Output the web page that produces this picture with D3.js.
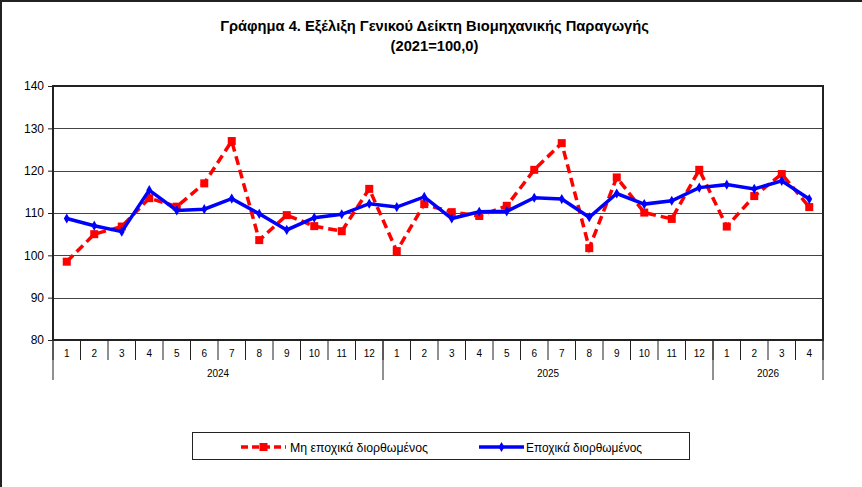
<!DOCTYPE html>
<html>
<head>
<meta charset="utf-8">
<script src="https://cdn.jsdelivr.net/npm/d3@7"></script>
<style>
  html, body { margin: 0; padding: 0; background: #fff; }
  svg { display: block; }
  text { font-family: "Liberation Sans Narrow", "Arial Narrow", "Liberation Sans", Arial, sans-serif; }
</style>
</head>
<body>
<svg id="chart" width="862" height="487"></svg>
<script>
const months = ["1","2","3","4","5","6","7","8","9","10","11","12",
                "1","2","3","4","5","6","7","8","9","10","11","12",
                "1","2","3","4"];
const years = [
  {label: "2024", count: 12},
  {label: "2025", count: 12},
  {label: "2026", count: 4}
];
const nsa = [98.5,105.0,106.8,113.5,111.5,117.0,127.0,103.6,109.5,106.9,105.7,115.7,
             101.0,112.1,110.2,109.3,111.7,120.2,126.5,101.7,118.4,110.1,108.6,120.2,
             106.8,114.0,119.2,111.4];
const sa  = [108.7,107.0,105.6,115.4,110.6,110.9,113.4,109.8,106.0,108.9,109.7,112.2,
             111.4,113.8,108.7,110.3,110.4,113.6,113.3,109.0,114.6,112.1,112.9,116.0,
             116.7,115.7,117.6,113.3];
const yTicks = [80,90,100,110,120,130,140];
const seriesNames = ["Μη εποχικά διορθωμένος", "Εποχικά διορθωμένος"];
const titleLines = ["Γράφημα 4. Εξέλιξη Γενικού Δείκτη Βιομηχανικής Παραγωγής", "(2021=100,0)"];

const svg = d3.select("#chart");
const W = 862, H = 487;
const plot = {left: 53, right: 823, top: 86, bottom: 340};

// outer frame (top & left visible)
svg.append("line").attr("x1",0).attr("x2",W).attr("y1",1).attr("y2",1).attr("stroke","#222").attr("stroke-width",2);
svg.append("line").attr("x1",1).attr("x2",1).attr("y1",0).attr("y2",H).attr("stroke","#222").attr("stroke-width",2);

// title
svg.append("text").attr("x",434.5).attr("y",31).attr("text-anchor","middle")
  .attr("font-size",14.7).attr("font-weight","bold").attr("fill","#000").text(titleLines[0]);
svg.append("text").attr("x",434.5).attr("y",51).attr("text-anchor","middle")
  .attr("font-size",14.7).attr("font-weight","bold").attr("fill","#000").text(titleLines[1]);

const idx = d3.range(months.length);
const x = d3.scaleBand().domain(idx).range([plot.left, plot.right]).padding(0);
const y = d3.scaleLinear().domain([80,140]).range([plot.bottom, plot.top]);

// gridlines
svg.append("g").selectAll("line").data(yTicks.filter(t => t>80 && t<140)).join("line")
  .attr("x1",plot.left).attr("x2",plot.right)
  .attr("y1",d=>Math.round(y(d))+0.5).attr("y2",d=>Math.round(y(d))+0.5)
  .attr("stroke","#444").attr("stroke-width",1);

// plot border
svg.append("rect").attr("x",plot.left).attr("y",plot.top)
  .attr("width",plot.right-plot.left).attr("height",plot.bottom-plot.top)
  .attr("fill","none").attr("stroke","#222").attr("stroke-width",2);

// y axis
const yAxis = d3.axisLeft(y).tickValues(yTicks).tickSize(5).tickPadding(4);
const gy = svg.append("g").attr("transform",`translate(${plot.left},0)`).call(yAxis);
gy.select(".domain").remove();
gy.selectAll("line").attr("stroke","#222");
gy.selectAll("text").attr("font-size",12).attr("fill","#000")
  .style("font-family","'Liberation Sans Narrow','Liberation Sans',Arial,sans-serif");

// x axis: month labels
const gx = svg.append("g");
const bounds = d3.range(months.length+1).map(i => i < months.length ? x(i) : plot.right);
gx.selectAll("line.m").data(bounds).join("line").attr("class","m")
  .attr("x1",d=>d).attr("x2",d=>d).attr("y1",plot.bottom).attr("y2",360)
  .attr("stroke","#222").attr("stroke-width",1);
gx.selectAll("text.m").data(idx).join("text").attr("class","m")
  .attr("x",d=>x(d)+x.bandwidth()/2).attr("y",357).attr("text-anchor","middle")
  .attr("font-size",10).attr("fill","#000").text(d=>months[d]);

// year groups
let start = 0;
const yearPos = years.map(yr => { const s = start; start += yr.count; return {label: yr.label, s, e: start}; });
const yearBounds = [0].concat(yearPos.map(p => p.e));
gx.selectAll("line.y").data(yearBounds).join("line").attr("class","y")
  .attr("x1",d=>d<months.length?x(d):plot.right).attr("x2",d=>d<months.length?x(d):plot.right)
  .attr("y1",plot.bottom).attr("y2",380).attr("stroke","#222").attr("stroke-width",1);
gx.selectAll("text.y").data(yearPos).join("text").attr("class","y")
  .attr("x",d=>((d.s<months.length?x(d.s):plot.right)+(d.e<months.length?x(d.e):plot.right))/2)
  .attr("y",377).attr("text-anchor","middle").attr("font-size",10).attr("fill","#000").text(d=>d.label);

// lines
const line = d3.line().x((d,i)=>x(i)+x.bandwidth()/2).y(d=>y(d));
svg.append("path").datum(nsa).attr("d",line).attr("fill","none")
  .attr("stroke","#FF0000").attr("stroke-width",3.5).attr("stroke-dasharray","9,5");
svg.append("g").selectAll("rect").data(nsa).join("rect")
  .attr("x",(d,i)=>x(i)+x.bandwidth()/2-4).attr("y",d=>y(d)-4)
  .attr("width",8).attr("height",8).attr("fill","#FF0000");

svg.append("path").datum(sa).attr("d",line).attr("fill","none")
  .attr("stroke","#0000FF").attr("stroke-width",3.5);
const diamond = d3.symbol().type(d3.symbolDiamond).size(30);
svg.append("g").selectAll("path").data(sa).join("path")
  .attr("transform",(d,i)=>`translate(${x(i)+x.bandwidth()/2},${y(d)})`)
  .attr("d",diamond).attr("fill","#0000FF");

// legend
const lg = svg.append("g");
lg.append("rect").attr("x",192.5).attr("y",432.5).attr("width",497).attr("height",27)
  .attr("fill","#fff").attr("stroke","#222").attr("stroke-width",1);
lg.append("line").attr("x1",241).attr("x2",286).attr("y1",447).attr("y2",447)
  .attr("stroke","#FF0000").attr("stroke-width",3.5).attr("stroke-dasharray","7,4");
lg.append("rect").attr("x",259.5).attr("y",443).attr("width",8).attr("height",8).attr("fill","#FF0000");
lg.append("text").attr("x",290).attr("y",451.5).attr("font-size",13).attr("fill","#000")
  .attr("textLength",138).attr("lengthAdjust","spacingAndGlyphs").text(seriesNames[0]);
lg.append("line").attr("x1",479).attr("x2",524).attr("y1",447).attr("y2",447)
  .attr("stroke","#0000FF").attr("stroke-width",3.5);
lg.append("path").attr("transform","translate(501.5,447)").attr("d",diamond).attr("fill","#0000FF");
lg.append("text").attr("x",526).attr("y",451.5).attr("font-size",13).attr("fill","#000")
  .attr("textLength",116).attr("lengthAdjust","spacingAndGlyphs").text(seriesNames[1]);
</script>
</body>
</html>
